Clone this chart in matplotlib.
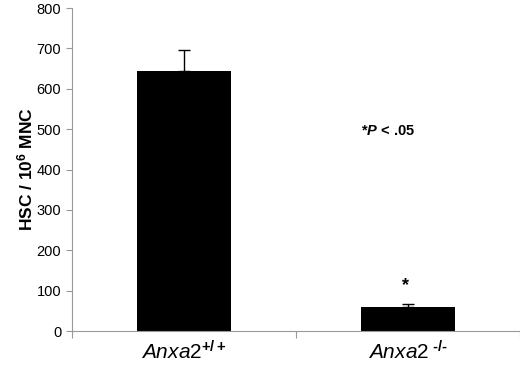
import matplotlib.pyplot as plt
import numpy as np

plt.rcParams['font.family'] = ['Liberation Sans', 'DejaVu Sans']
plt.rcParams['mathtext.fontset'] = 'custom'
plt.rcParams['mathtext.rm'] = 'Liberation Sans'
plt.rcParams['mathtext.it'] = 'Liberation Sans:italic'
plt.rcParams['mathtext.bf'] = 'Liberation Sans:bold'
plt.rcParams['mathtext.bfit'] = 'Liberation Sans:italic:bold'

categories = ["$\\mathit{Anxa2}^{\\mathbf{+/+}}$", "$\\mathit{Anxa2}^{\\ \\mathbf{\u2010/\u2010}}$"]
values = [644, 60]
errors = [52, 6]

fig, ax = plt.subplots(figsize=(5.2, 3.67), dpi=100)
fig.subplots_adjust(left=0.138, right=1.0, top=0.978, bottom=0.098)

x = np.arange(len(values))
ax.bar(x, values, width=0.42, color='black', zorder=2)
ax.errorbar(x, values, yerr=[[0, 0], errors], fmt='none', ecolor='black',
            elinewidth=1, capsize=4, capthick=1, zorder=3)

ax.set_xlim(-0.5, 1.5)
ax.set_ylim(0, 800)
ax.set_yticks(np.arange(0, 801, 100))
ax.tick_params(axis='y', labelsize=10.5, color='#999999', length=4, width=0.8)
ax.set_xticks([-0.5, 0.5, 1.5], minor=False)
ax.set_xticklabels([])
ax.tick_params(axis='x', color='#999999', length=5, width=0.8)
ax.set_xticks(x, minor=True)
ax.set_xticklabels(categories, minor=True, fontsize=15)
ax.tick_params(axis='x', which='minor', length=0, pad=7)

for s in ['top', 'right']:
    ax.spines[s].set_visible(False)
for s in ['left', 'bottom']:
    ax.spines[s].set_color('#999999')
    ax.spines[s].set_linewidth(0.8)

ax.set_ylabel("HSC / 10$^{\\mathbf{6}}$ MNC", fontsize=12.5, fontweight='bold', labelpad=1)

ax.text(0.91, 495, "*$\\mathbfit{P}$ < .05", fontsize=10.5, fontweight='bold', ha='center', va='center')
ax.text(0.99, 112, "*", fontsize=13, fontweight='bold', ha='center', va='center')

fig.savefig("out.png", dpi=100)
